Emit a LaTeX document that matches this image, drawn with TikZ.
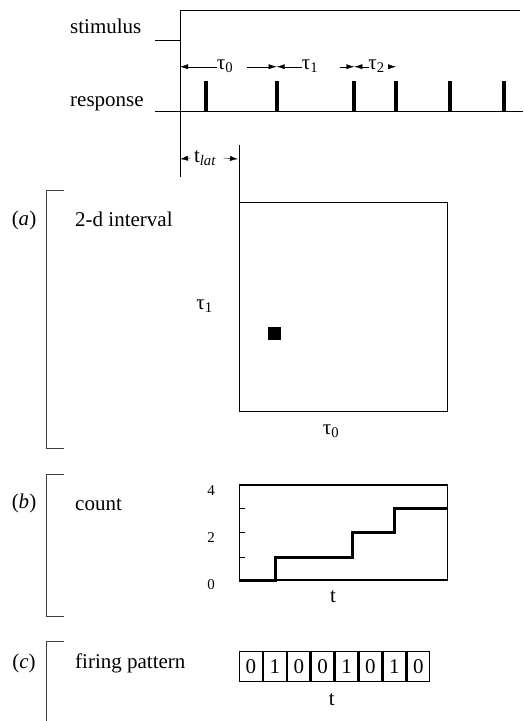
\documentclass[tikz,border=0pt]{standalone}
\usepackage{fontspec}
\setmainfont{Liberation Serif}
\usetikzlibrary{positioning,arrows.meta,calc}

\begin{document}
\begin{tikzpicture}[x=1pt, y=-1pt,
  font=\fontsize{21}{25}\selectfont,
  thinline/.style={line width=0.9pt},
  frame/.style={draw, line width=1.3pt, inner sep=0pt, anchor=north west},
  spike/.style={line width=4pt},
  stair/.style={line width=3pt},
  bracket/.style={draw=black!75, line width=0.8pt},
  bit/.style={draw, line width=1.3pt, minimum width=22.6pt, minimum height=30pt, inner sep=0pt},
  tick/.style={font=\fontsize{15}{18}\selectfont},
  >={Latex[length=8pt,width=5pt]}]
\useasboundingbox (0,0) rectangle (523,721);
% stimulus and spike train
\node[anchor=base west, inner sep=0pt] (stim) at (70,33.3) {stimulus};
\node[anchor=base west, inner sep=0pt] (resp) at (70,106) {response};
\draw[thinline] (155,40) -- (180,40) -- (180,10) -- (520,10);
\draw[thinline] (180,40) -- (180,177);
\draw[thinline] (155,111.7) -- (523,111.7);
\foreach \x [count=\i] in {205.7,276.7,354.3,396,450,504} {
  \draw[spike] (\x,111.7) -- (\x,81);
  \coordinate (s\i) at (\x,66.7);
}
\coordinate (s0) at (180,66.7);
% interval labels
\node (tau0) at (225,66) {τ\textsubscript{0}};
\node (tau1) at (310,66) {τ\textsubscript{1}};
\node (tau2) at (376.5,66) {τ\textsubscript{2}};
\draw[->] ($(tau0.west)+(4,0.7)$) -- (s0);
\draw[->] ($(tau0.east)+(10,0.7)$) -- (s2);
\draw[->] ($(tau1.west)+(4,0.7)$) -- (s2);
\draw[->] ($(tau1.east)+(18,0.7)$) -- (s3);
\draw[->] ($(tau2.west)+(4,0.7)$) -- (s3);
\draw[->] ($(tau2.east)+(2,0.7)$) -- (s4);
% latency
\coordinate (l0) at (180,159);
\coordinate (l1) at (238,159);
\node (tlat) at (205,158) {t\textsubscript{\itshape lat}};
\draw[->] (tlat.west) -- (l0);
\draw[->] ($(tlat.east)+(4,0)$) -- (l1);
\draw[thinline] (239,145) -- (239,201.7);
% (a) 2-d interval
\draw[bracket] (64,190.7) -- (46.7,190.7) -- (46.7,448) -- (64,448);
\node (la) at (24,220) {(\textit{a})};
\node[anchor=base west, inner sep=0pt] (ta) at (75,226.7) {2-d interval};
\node[frame, minimum width=208pt, minimum height=209pt] (iv) at (239,201.7) {};
\fill (268,327) rectangle (281,340);
\node (ytau) at (204.5,306) {τ\textsubscript{1}};
\node (xtau) at (331,431) {τ\textsubscript{0}};
% (b) count
\draw[bracket] (64,474) -- (46.7,474) -- (46.7,616.7) -- (64,616.7);
\node (lb) at (24,503) {(\textit{b})};
\node[anchor=base west, inner sep=0pt] (tb) at (75,510) {count};
\node[frame, minimum width=208pt, minimum height=95pt] (cnt) at (239,484.3) {};
\foreach \y in {508.3,532.5,557} \draw[thinline] (239,\y) -- (245,\y);
\node[tick] at (211,490.5) {4};
\node[tick] at (211,538) {2};
\node[tick] at (211,585) {0};
\draw[stair] (239,580) -- (275,580) -- (275,557) -- (352.7,557) -- (352.7,532.5)
  -- (394.3,532.5) -- (394.3,508.3) -- (447,508.3);
\node (xt) at (333,597) {t};
% (c) firing pattern
\draw[bracket] (64,641.7) -- (46.7,641.7) -- (46.7,721);
\node (lc) at (24,663) {(\textit{c})};
\node[anchor=base west, inner sep=0pt] (tc) at (75,668.3) {firing pattern};
\foreach \b [count=\i] in {0,1,0,0,1,0,1,0}
  \node[bit] (c\i) at ({239+23.9*(\i-0.5)},666.7) {\b};
\node (ct) at (331.7,700) {t};
\end{tikzpicture}
\end{document}
